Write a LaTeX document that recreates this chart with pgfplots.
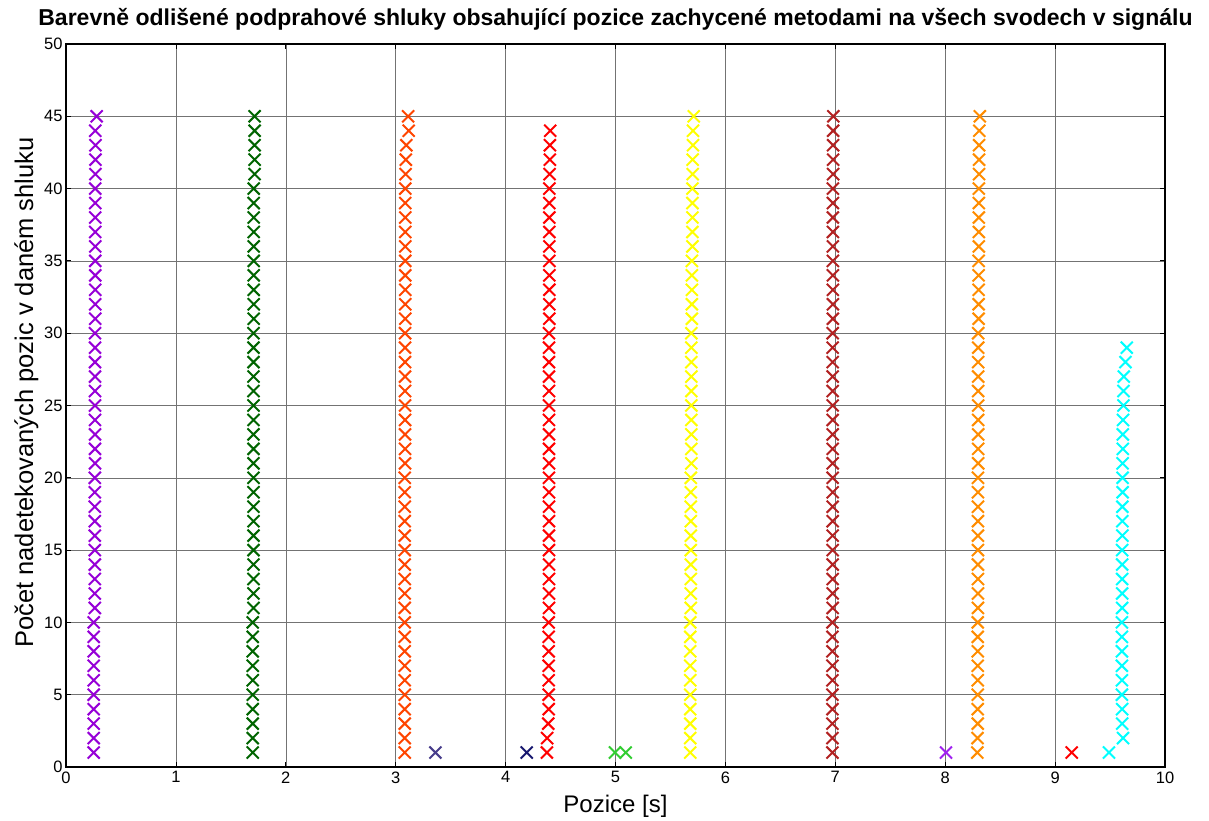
\documentclass[border=0pt]{standalone}
\usepackage{pgfplots}
\pgfplotsset{compat=1.18}
\usepackage{fontspec}
\setmainfont{Liberation Sans}

\definecolor{cPurple}{RGB}{150,0,215}
\definecolor{cDkGreen}{RGB}{0,100,0}
\definecolor{cOrRed}{RGB}{255,69,0}
\definecolor{cSlate}{RGB}{72,61,139}
\definecolor{cMidnight}{RGB}{25,25,112}
\definecolor{cRed}{RGB}{255,0,0}
\definecolor{cLime}{RGB}{50,205,50}
\definecolor{cYellow}{RGB}{255,255,0}
\definecolor{cBrown}{RGB}{178,34,34}
\definecolor{cViolet}{RGB}{160,32,240}
\definecolor{cOrange}{RGB}{255,140,0}
\definecolor{cCyan}{RGB}{0,255,255}

\begin{document}
\begin{tikzpicture}
\begin{axis}[
  scale only axis,
  width=1099pt, height=723pt,
  xmin=0, xmax=10, ymin=0, ymax=50,
  xtick={0,1,...,10}, ytick={0,5,...,50},
  grid=major,
  major grid style={black!55, line width=0.5pt},
  tick align=inside, xtick pos=both, ytick pos=both,
  major tick length=5pt,
  tick style={black, line width=0.8pt},
  axis line style={black, line width=1.1pt},
  /pgf/number format/assume math mode=true,
  tick label style={font=\fontsize{16.5}{19}\selectfont},
  xticklabel style={yshift=-1pt},
  title={\bfseries Barevně odlišené podprahové shluky obsahující pozice zachycené metodami na všech svodech v signálu},
  title style={font=\fontsize{23}{27}\selectfont, at={(rel axis cs:0.5,1.0166)}, anchor=base},
  xlabel={Pozice [s]},
  xlabel style={font=\fontsize{24}{28}\selectfont, at={(rel axis cs:0.5,-0.0636)}, anchor=base},
  ylabel={Počet nadetekovaných pozic v daném shluku},
  ylabel style={font=\fontsize{25.5}{30}\selectfont, at={(rel axis cs:-0.030,0.518)}, anchor=base},
  every axis plot/.append style={only marks, mark=x, mark size=8.5pt, line width=2pt},
]
\coordinate (ll) at (rel axis cs:0,0);
\coordinate (ur) at (rel axis cs:1,1);

% cluster near 0.26 s
\addplot[cPurple] coordinates {
(0.252,1)(0.252,2)(0.252,3)(0.252,4)(0.252,5)(0.252,6)(0.252,7)(0.252,8)(0.252,9)(0.252,10)
(0.262,11)(0.262,12)(0.262,13)(0.262,14)(0.262,15)(0.262,16)(0.262,17)(0.262,18)(0.262,19)(0.262,20)
(0.264,21)(0.264,22)(0.264,23)(0.264,24)(0.264,25)(0.264,26)(0.264,27)(0.264,28)(0.264,29)(0.264,30)
(0.266,31)(0.266,32)(0.266,33)(0.266,34)(0.266,35)(0.266,36)(0.266,37)(0.266,38)(0.266,39)(0.266,40)
(0.268,41)(0.268,42)(0.268,43)(0.266,44)(0.279,45)};

% cluster near 1.7 s
\addplot[cDkGreen] coordinates {
(1.699,1)(1.699,2)(1.699,3)(1.699,4)(1.699,5)(1.699,6)(1.699,7)(1.699,8)(1.699,9)(1.699,10)
(1.706,11)(1.706,12)(1.706,13)(1.706,14)(1.706,15)(1.706,16)(1.706,17)(1.706,18)(1.706,19)(1.706,20)
(1.706,21)(1.706,22)(1.706,23)(1.706,24)(1.706,25)(1.706,26)(1.706,27)(1.706,28)(1.706,29)(1.706,30)
(1.708,31)(1.708,32)(1.708,33)(1.708,34)(1.708,35)(1.708,36)(1.708,37)(1.708,38)(1.708,39)(1.708,40)
(1.716,41)(1.716,42)(1.716,43)(1.716,44)(1.716,45)};

% cluster near 3.1 s
\addplot[cOrRed] coordinates {
(3.082,1)(3.082,2)(3.082,3)(3.082,4)(3.082,5)(3.082,6)(3.082,7)(3.082,8)(3.082,9)(3.082,10)
(3.082,11)(3.082,12)(3.082,13)(3.082,14)(3.082,15)(3.082,16)(3.082,17)(3.082,18)(3.082,19)(3.082,20)
(3.085,21)(3.085,22)(3.085,23)(3.085,24)(3.085,25)(3.085,26)(3.085,27)(3.085,28)(3.085,29)(3.085,30)
(3.087,31)(3.087,32)(3.087,33)(3.087,34)(3.087,35)(3.087,36)(3.087,37)(3.087,38)(3.087,39)(3.087,40)
(3.090,41)(3.092,42)(3.097,43)(3.118,44)(3.113,45)};

\addplot[cSlate] coordinates {(3.361,1)};
\addplot[cMidnight] coordinates {(4.192,1)};

% cluster near 4.4 s
\addplot[cRed] coordinates {
(4.376,1)(4.378,2)(4.388,3)(4.392,4)(4.392,5)(4.392,6)(4.392,7)(4.392,8)(4.392,9)(4.392,10)
(4.395,11)(4.395,12)(4.395,13)(4.395,14)(4.395,15)(4.395,16)(4.395,17)(4.395,18)(4.395,19)(4.395,20)
(4.395,21)(4.395,22)(4.395,23)(4.395,24)(4.395,25)(4.395,26)(4.395,27)(4.395,28)(4.395,29)(4.395,30)
(4.398,31)(4.398,32)(4.398,33)(4.398,34)(4.398,35)(4.398,36)(4.398,37)(4.398,38)(4.398,39)(4.398,40)
(4.400,41)(4.403,42)(4.403,43)(4.406,44)};

\addplot[cLime] coordinates {(4.995,1)(5.093,1)};

% cluster near 5.7 s
\addplot[cYellow] coordinates {
(5.680,1)(5.680,2)(5.680,3)(5.680,4)(5.680,5)(5.680,6)(5.680,7)(5.680,8)(5.680,9)(5.680,10)
(5.685,11)(5.685,12)(5.685,13)(5.685,14)(5.685,15)(5.685,16)(5.685,17)(5.685,18)(5.685,19)(5.685,20)
(5.690,21)(5.690,22)(5.690,23)(5.690,24)(5.690,25)(5.690,26)(5.690,27)(5.690,28)(5.690,29)(5.690,30)
(5.695,31)(5.695,32)(5.695,33)(5.695,34)(5.695,35)(5.700,36)(5.700,37)(5.700,38)(5.700,39)(5.700,40)
(5.702,41)(5.702,42)(5.705,43)(5.705,44)(5.712,45)};

% cluster near 7.0 s
\addplot[cBrown] coordinates {
(6.974,1)(6.974,2)(6.974,3)(6.974,4)(6.974,5)(6.974,6)(6.974,7)(6.974,8)(6.974,9)(6.974,10)
(6.976,11)(6.976,12)(6.976,13)(6.976,14)(6.976,15)(6.976,16)(6.976,17)(6.976,18)(6.976,19)(6.976,20)
(6.976,21)(6.976,22)(6.976,23)(6.976,24)(6.976,25)(6.976,26)(6.976,27)(6.976,28)(6.976,29)(6.976,30)
(6.978,31)(6.978,32)(6.978,33)(6.978,34)(6.978,35)(6.978,36)(6.978,37)(6.978,38)(6.978,39)(6.978,40)
(6.980,41)(6.980,42)(6.980,43)(6.980,44)(6.982,45)};

\addplot[cViolet] coordinates {(8.007,1)};

% cluster near 8.3 s
\addplot[cOrange] coordinates {
(8.292,1)(8.294,2)(8.296,3)(8.296,4)(8.296,5)(8.296,6)(8.296,7)(8.296,8)(8.296,9)(8.296,10)
(8.298,11)(8.298,12)(8.298,13)(8.298,14)(8.298,15)(8.298,16)(8.298,17)(8.298,18)(8.298,19)(8.298,20)
(8.300,21)(8.300,22)(8.300,23)(8.300,24)(8.300,25)(8.300,26)(8.300,27)(8.300,28)(8.300,29)(8.300,30)
(8.304,31)(8.304,32)(8.304,33)(8.304,34)(8.304,35)(8.306,36)(8.306,37)(8.306,38)(8.306,39)(8.306,40)
(8.308,41)(8.308,42)(8.308,43)(8.310,44)(8.315,45)};

\addplot[cRed] coordinates {(9.151,1)};

% cluster near 9.6 s
\addplot[cCyan] coordinates {
(9.490,1)(9.618,2)(9.610,3)(9.610,4)(9.608,5)(9.608,6)(9.608,7)(9.608,8)(9.608,9)(9.608,10)
(9.610,11)(9.610,12)(9.610,13)(9.610,14)(9.610,15)(9.612,16)(9.612,17)(9.612,18)(9.614,19)(9.614,20)
(9.614,21)(9.616,22)(9.616,23)(9.618,24)(9.622,25)(9.622,26)(9.625,27)(9.640,28)(9.652,29)};
\end{axis}
\pgfresetboundingbox
\path ([shift={(-66pt,-54pt)}]ll) rectangle ([shift={(44pt,44pt)}]ur);
\end{tikzpicture}
\end{document}
